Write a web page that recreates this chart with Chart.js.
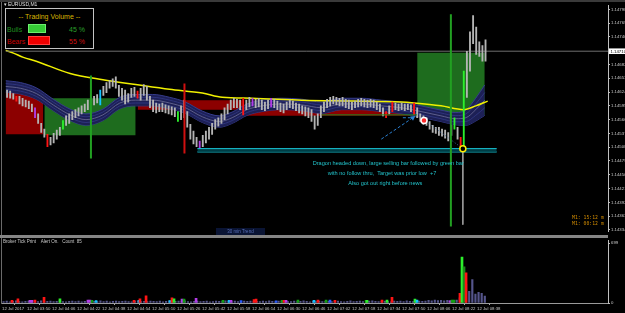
<!DOCTYPE html>
<html><head><meta charset="utf-8">
<script src="https://cdn.jsdelivr.net/npm/chart.js@4.4.0/dist/chart.umd.min.js"></script>
<style>
html,body{margin:0;padding:0;background:#000;overflow:hidden;width:625px;height:313px;}
#wrap{position:relative;width:625px;height:313px;font-family:'Liberation Sans',Arial,sans-serif;}
canvas{position:absolute;left:0;}
#main{top:0;}
#vol{top:237px;}
.t{position:absolute;white-space:pre;line-height:1;}
.s{position:absolute;white-space:pre;line-height:1;transform:scale(0.5);transform-origin:0 0;}
.r{position:absolute;}
</style></head><body><div id="wrap">
<canvas id="main" width="625" height="237"></canvas>
<canvas id="vol" width="625" height="76"></canvas>
<div class="r" style="left:0;top:0;width:625px;height:2px;background:#3a3a3a"></div>
<div class="r" style="left:1px;top:2px;width:1px;height:302px;background:#6a6a6a"></div>
<div class="s" style="left:4px;top:2px;font-size:10px;color:#e0e0e0">▾ EURUSD,M1</div>
<div class="r" style="left:0;top:235px;width:608px;height:3px;background:#858585"></div>
<div class="r" style="left:5px;top:8px;width:87px;height:39px;border:1px solid #c4c4c4;background:#000"></div>
<div class="t" style="left:5px;top:12.5px;width:89px;text-align:center;font-size:7px;color:#d8b400">-- Trading Volume --</div>
<div class="t" style="left:7px;top:25.5px;font-size:7px;color:#1f8f1f">Bulls</div>
<div id="bullBar" class="r" style="left:28px;top:24px;height:7px;background:#36cc36;border:1px solid #6ef06e"></div>
<div id="bullTxt" class="t" style="left:69px;top:25.5px;font-size:7px;color:#2aa02a"></div>
<div class="t" style="left:7px;top:37.5px;font-size:7px;color:#c80000">Bears</div>
<div id="bearBar" class="r" style="left:28px;top:36px;height:7px;background:#f00000;border:1px solid #ff4040"></div>
<div id="bearTxt" class="t" style="left:69px;top:37.5px;font-size:7px;color:#d01010"></div>
<div class="r" style="left:216px;top:227.5px;width:49px;height:7px;background:#0a1434"></div>
<div class="s" style="left:216px;top:229px;width:98px;text-align:center;font-size:9px;color:#5a70b8">30 min Trend</div>
<div class="s" style="left:572px;top:214.5px;font-size:9.6px;font-family:'DejaVu Sans Mono',monospace;color:#d08a00">M1: 15:12 m</div>
<div class="s" style="left:572px;top:220.5px;font-size:9.6px;font-family:'DejaVu Sans Mono',monospace;color:#d08a00">M1: 00:12 m</div>
<div class="s" style="left:3px;top:238.5px;font-size:9px;color:#c8c8c8">Broker Tick Print    Alert On.   Count  85</div>
</div>
<script>
// ---- data ----
const priceTicks = [1.14798,1.14769,1.14740,1.14711,1.14682,1.14653,1.14624,1.14595,1.14566,1.14537,1.14508,1.14479,1.14450,1.14421,1.14392,1.14363,1.14334];
const currentPrice = 1.14710;
const timeLabels = ["12 Jul 2017","12 Jul 03:50","12 Jul 04:06","12 Jul 04:22","12 Jul 04:38","12 Jul 04:54","12 Jul 05:10","12 Jul 05:26","12 Jul 05:42","12 Jul 05:58","12 Jul 06:14","12 Jul 06:30","12 Jul 06:46","12 Jul 07:02","12 Jul 07:18","12 Jul 07:34","12 Jul 07:50","12 Jul 08:06","12 Jul 08:22","12 Jul 08:38"];
const labelMinutes = [0,16,32,48,64,80,96,112,128,144,160,176,192,208,224,240,256,272,288,304];
const barHigh = [
1.14628,1.14626,1.14621,1.14615,1.14615,1.14611,1.14607,1.14605,1.14599,1.14591,
1.14578,1.14558,1.14546,1.14535,1.14529,1.14537,1.14544,1.14550,1.14564,1.14574,
1.14578,1.14583,1.14587,1.14591,1.14595,1.14599,1.14607,1.14613,1.14615,1.14619,
1.14628,1.14636,1.14644,1.14648,1.14652,1.14656,1.14638,1.14632,1.14628,1.14621,
1.14632,1.14634,1.14626,1.14632,1.14640,1.14636,1.14615,1.14607,1.14601,1.14599,
1.14601,1.14597,1.14595,1.14593,1.14591,1.14583,1.14595,1.14607,1.14583,1.14556,
1.14542,1.14529,1.14521,1.14533,1.14542,1.14550,1.14558,1.14566,1.14570,1.14578,
1.14591,1.14599,1.14607,1.14611,1.14609,1.14607,1.14611,1.14607,1.14613,1.14611,
1.14609,1.14611,1.14607,1.14603,1.14607,1.14611,1.14609,1.14605,1.14601,1.14599,
1.14603,1.14607,1.14605,1.14601,1.14599,1.14595,1.14593,1.14591,1.14587,1.14574,
1.14578,1.14595,1.14603,1.14609,1.14613,1.14615,1.14613,1.14611,1.14613,1.14609,
1.14607,1.14603,1.14605,1.14609,1.14611,1.14609,1.14607,1.14609,1.14607,1.14603,
1.14599,1.14591,1.14583,1.14595,1.14603,1.14601,1.14599,1.14601,1.14599,1.14599,
1.14597,1.14601,1.14591,1.14578,1.14574,1.14570,1.14562,1.14554,1.14550,1.14550,
1.14546,1.14544,1.14539,1.14554,1.14570,1.14550,1.14529,1.14668,1.14710,1.14751,
1.14785,1.14761,1.14730,1.14722,1.14734];
const barLow = [
1.14613,1.14611,1.14609,1.14605,1.14599,1.14595,1.14593,1.14589,1.14583,1.14570,
1.14558,1.14539,1.14529,1.14509,1.14513,1.14517,1.14525,1.14533,1.14546,1.14554,
1.14558,1.14566,1.14570,1.14574,1.14578,1.14583,1.14587,1.14601,1.14597,1.14601,
1.14597,1.14617,1.14623,1.14632,1.14636,1.14632,1.14615,1.14607,1.14599,1.14603,
1.14613,1.14615,1.14611,1.14607,1.14617,1.14607,1.14591,1.14583,1.14580,1.14583,
1.14583,1.14580,1.14578,1.14576,1.14572,1.14562,1.14566,1.14570,1.14550,1.14525,
1.14515,1.14509,1.14505,1.14509,1.14517,1.14525,1.14535,1.14546,1.14552,1.14558,
1.14566,1.14578,1.14587,1.14591,1.14591,1.14587,1.14576,1.14587,1.14593,1.14595,
1.14591,1.14593,1.14587,1.14585,1.14589,1.14593,1.14591,1.14587,1.14583,1.14580,
1.14587,1.14591,1.14589,1.14585,1.14580,1.14578,1.14574,1.14570,1.14562,1.14546,
1.14554,1.14570,1.14583,1.14591,1.14595,1.14599,1.14597,1.14595,1.14595,1.14591,
1.14589,1.14587,1.14591,1.14593,1.14595,1.14593,1.14591,1.14593,1.14591,1.14587,
1.14583,1.14574,1.14570,1.14578,1.14583,1.14587,1.14585,1.14587,1.14585,1.14587,
1.14583,1.14576,1.14570,1.14562,1.14556,1.14554,1.14546,1.14539,1.14537,1.14533,
1.14531,1.14527,1.14521,1.14533,1.14546,1.14525,1.14509,1.14505,1.14613,1.14668,
1.14726,1.14703,1.14699,1.14689,1.14689];
const barHighlights = [[3,'red'],[9,'magenta'],[13,'red'],[18,'lime'],[27,'magenta'],[30,'cyan'],[42,'red'],[55,'lime'],[62,'magenta'],[76,'red'],[79,'magenta'],[85,'magenta'],[122,'red'],[124,'red'],[131,'red'],[144,'lime'],[146,'red'],[147,'lime']];
const maMinutes = [0,5.1,11.5,19.8,41.6,62.7,83.8,105.6,126.7,139.5,158.7,190.7,222.7,254.7,263,280.3,295,302.7,310.4];
const maValues = [1.14712,1.14706,1.14697,1.14689,1.14663,1.14650,1.14640,1.14630,1.14622,1.14613,1.14611,1.14607,1.14605,1.14603,1.14601,1.14595,1.14587,1.14595,1.14605];
const ribbonMinutes = [0,9.6,19.8,30.7,41.6,51.8,62.7,73.6,83.8,94.7,105.6,115.8,126.7,137.6,145.9,155.5,165.1,177.9,190.7,203.5,216.3,229.1,241.9,254.7,267.5,280.3,289.9,296.3,302.7,308.5];
const ribbonMid = [1.14636,1.14632,1.14621,1.14597,1.14576,1.14566,1.14576,1.14601,1.14607,1.14607,1.14601,1.14591,1.14572,1.14562,1.14570,1.14587,1.14595,1.14599,1.14597,1.14591,1.14599,1.14599,1.14595,1.14591,1.14583,1.14574,1.14568,1.14570,1.14587,1.14607];
const ribbonHalf = [0.00012,0.00012,0.00012,0.00012,0.00012,0.00012,0.00012,0.00012,0.00012,0.00012,0.00012,0.00012,0.00012,0.00012,0.00012,0.00012,0.00012,0.00012,0.00012,0.00012,0.00012,0.00012,0.00012,0.00012,0.00012,0.00012,0.00013,0.00016,0.00024,0.00032];
const boxStart = [0,25,85.1,152.3,265];
const boxEnd = [24.3,83.8,152.3,264.3,308.5];
const boxTop = [1.14623,1.14611,1.14607,1.14591,1.14707];
const boxBottom = [1.14535,1.14533,1.14587,1.14574,1.14576];
const boxKind = ['bear','bull','bear','bear','bull'];
const vLineMinutes = [55,115.2,286.7,294.4];
const vLineFrom = [1.14659,1.14642,1.14788,1.14505];
const vLineTo = [1.14484,1.14495,1.14341,1.14345];
const vLineKind = ['bullLine','bearLine','bullLine','gray'];
const supportZone = {from:123.5, to:316.2, top:1.14505, bottom:1.14498};
const notes = [
 ["Dragon headed down, large selling bar followed by green bar",246.4,1.14474],
 ["with no follow thru,  Target was prior low  +7",242.4,1.14453],
 ["Also got out right before news",244.5,1.14431]];
const bullPct = 45, bearPct = 55;
const volBase = [
18,22,15,20,25,17,14,19,23,16,
21,18,26,15,19,22,17,20,24,16,
14,19,21,18,23,15,20,17,22,19,
16,24,18,21,15,20,23,17,19,22,
18,15,21,26,17,20,16,23,19,18,
22,15,20,24,17,19,21,16,25,18,
14,20,22,17,19,23,15,18,21,20,
16,24,19,17,22,18,15,21,20,23,
17,19,16,22,18,25,20,15,21,19,
23,17,18,22,16,20,24,19,15,21,
18,22,17,20,19,16,23,21,18,15,
20,24,17,19,22,18,16,21,25,19,
17,20,23,18,15,22,19,21,17,24,
20,18,16,23,19,21,30,26,35,28,
32,25,30,27,29,33,60,80,
217,137,274,103,125,114,80];
const tickTimes = [6.4,10.2,17.9,19.2,21.1,26.9,37.1,55,56.3,57.6,60.2,84.5,87.7,88.3,92.2,107.5,108.8,110.1,115.2,116.5,124.2,141.4,145.3,146.6,153,161.3,162.6,175.4,179.2,180.5,181.8,189.4,199.7,202.2,207.4,209.9,213.1,233,233.6,243.2,246.4,249.6,264.3,265.6,286.7,288,289.3,293.1,294.4,295.7,297];
const tickVolumes = [30,50,30,30,35,65,50,35,35,30,28,30,30,50,85,28,60,50,45,45,55,30,30,30,28,40,45,25,30,30,30,35,30,35,35,35,30,30,30,35,35,65,45,35,25,35,35,114,536,422,354];
const tickKinds = ['red','red','magenta','magenta','red','red','lime','magenta','magenta','green','cyan','red','cyan','red','red','cyan','red','lime','magenta','green','magenta','green','cyan','magenta','blue','red','red','blue','green','red','magenta','green','cyan','red','green','blue','red','green','lime','red','lime','red','lime','cyan','magenta','green','green','red','lime','dkgreen','red'];
const volTicks = [0,699];

// ---- styles ----
const C = {red:'#ff1414',magenta:'#b23ce6',lime:'#2cf02c',green:'#12a012',cyan:'#12c4ff',blue:'#2a5cff',dkgreen:'#1b8a1b',
  gray:'#9a9a9a',bull:'#1e6c1e',bear:'#8c0000',bullLine:'#22a022',bearLine:'#d01010',candle:'#b4b4b4',vol:'#55558c'};
const X_MIN = 0, X_MAX = 387.84;
const Y_MIN = 1.143306, Y_MAX = 1.148062;

document.getElementById('bullBar').style.width = (bullPct*0.4-2)+'px';
document.getElementById('bearBar').style.width = (bearPct*0.4-2)+'px';
document.getElementById('bullTxt').textContent = bullPct+' %';
document.getElementById('bearTxt').textContent = bearPct+' %';

function seg(x0,y0,x1,y1,color,width,dash,order){
  return {type:'line',data:[{x:x0,y:y0},{x:x1,y:y1}],borderColor:color,borderWidth:width,borderDash:dash||[],pointRadius:0,fill:false,order:order};
}
const mainSets = [];
boxStart.forEach((s,i)=>mainSets.push({type:'line',data:[{x:s,y:boxTop[i]},{x:boxEnd[i],y:boxTop[i]}],
  fill:{value:boxBottom[i]},backgroundColor:C[boxKind[i]],borderWidth:0,pointRadius:0,order:10}));
const rib = k => ribbonMinutes.map((m,i)=>({x:m,y:ribbonMid[i]+k*ribbonHalf[i]}));
const ribBase = {type:'line',pointRadius:0,cubicInterpolationMode:'monotone'};
mainSets.push({...ribBase,data:rib(1),fill:'+1',backgroundColor:'#1d2056',borderColor:'#363c8c',borderWidth:1,order:8});
mainSets.push({...ribBase,data:rib(-1),fill:false,borderColor:'#363c8c',borderWidth:1,order:8});
mainSets.push({...ribBase,data:rib(0.5),fill:false,borderColor:'#343a86',borderWidth:0.8,order:7});
mainSets.push({...ribBase,data:rib(-0.5),fill:false,borderColor:'#343a86',borderWidth:0.8,order:7});
mainSets.push({...ribBase,data:rib(0),fill:false,borderColor:'#6e6e98',borderWidth:0.8,order:7});
mainSets.push({type:'line',data:maMinutes.map((m,i)=>({x:m,y:maValues[i]})),borderColor:'#f0f000',borderWidth:1.5,pointRadius:0,cubicInterpolationMode:'monotone',fill:false,order:6});
mainSets.push(seg(X_MIN,currentPrice,X_MAX,currentPrice,'#6e6e6e',1,null,5));
const candleColors = barHigh.map(()=>C.candle);
barHighlights.forEach(([i,k])=>candleColors[i]=C[k]);
mainSets.push({type:'bar',data:barHigh.map((h,i)=>({x:2*i+1,y:[barLow[i],h]})),backgroundColor:candleColors,barThickness:1.2,order:4});
vLineMinutes.forEach((m,i)=>mainSets.push(seg(m,vLineFrom[i],m,vLineTo[i],C[vLineKind[i]],vLineKind[i]==='gray'?1:2,null,2)));
mainSets.push({type:'line',data:[{x:supportZone.from,y:supportZone.top},{x:supportZone.to,y:supportZone.top}],fill:{value:supportZone.bottom},
  backgroundColor:'rgba(0,70,80,0.85)',borderColor:'#18c8d8',borderWidth:1,pointRadius:0,order:3});
mainSets.push(seg(supportZone.from,supportZone.bottom,supportZone.to,supportZone.bottom,'#18c8d8',1,null,3));
mainSets.push(seg(203.5,1.14576,265,1.14576,'#1f8a1f',1,null,3));
mainSets.push({type:'line',data:[{x:241.9,y:1.14525},{x:262.2,y:1.14570}],borderColor:'#2a7fd0',borderWidth:1,borderDash:[3,2],
  pointRadius:[0,3],pointStyle:'triangle',rotation:56,pointBackgroundColor:'#2a7fd0',pointBorderWidth:0,fill:false,order:2});
mainSets.push(seg(255.8,1.14570,262.2,1.14570,'#2a7fd0',1,[3,2],2));
mainSets.push(seg(267.5,1.14570,294.4,1.14505,'#3f6a9a',1,[1,2],2));
mainSets.push({type:'line',showLine:false,data:[{x:269.4,y:1.14564}],pointRadius:3,pointBackgroundColor:'#ff2a2a',pointBorderColor:'#ffffff',pointBorderWidth:1.5,order:1});
mainSets.push({type:'line',showLine:false,data:[{x:294.4,y:1.14505}],pointRadius:3,pointBackgroundColor:'#000',pointBorderColor:'#ffee00',pointBorderWidth:1.5,order:1});

const notesPlugin = {id:'notes',afterDatasetsDraw(chart){
  const {ctx,scales:{x,y}} = chart;
  ctx.save(); ctx.font = '5.6px "Liberation Sans"'; ctx.fillStyle = '#22c4cc'; ctx.textAlign = 'center'; ctx.textBaseline = 'middle';
  notes.forEach(([t,m,p])=>ctx.fillText(t,x.getPixelForValue(m),y.getPixelForValue(p)));
  ctx.restore();
}};
const priceBoxPlugin = {id:'pbox',afterDraw(chart){
  const {ctx,scales:{y}} = chart; const py = y.getPixelForValue(currentPrice);
  ctx.save(); ctx.fillStyle = '#ffffff'; ctx.fillRect(609,py-2.8,16,5.6);
  ctx.fillStyle = '#000'; ctx.font = '4.3px "Liberation Sans"'; ctx.textBaseline = 'middle'; ctx.textAlign = 'left';
  ctx.fillText(currentPrice.toFixed(5),610.5,py+0.2); ctx.restore();
}};
const common = {responsive:false,animation:false,devicePixelRatio:1,events:[],
  plugins:{legend:{display:false},tooltip:{enabled:false}},elements:{point:{radius:0}}};
const axisFont = {size:4.3,family:'Liberation Sans'};

new Chart(document.getElementById('main'),{
  type:'bar',data:{datasets:mainSets},
  options:{...common,layout:{padding:{left:2,top:3,right:0,bottom:2}},
    scales:{
      x:{type:'linear',min:X_MIN,max:X_MAX,offset:false,display:false},
      y:{type:'linear',position:'right',min:Y_MIN,max:Y_MAX,
        afterFit(s){s.width=17;},
        afterBuildTicks(s){s.ticks=priceTicks.filter(v=>Math.abs(v-currentPrice)>0.00008).map(v=>({value:v}));},
        ticks:{color:'#c8c8c8',font:axisFont,padding:1,autoSkip:false,callback:v=>Number(v).toFixed(5)},
        grid:{drawOnChartArea:false,color:'#c0c0c0',tickLength:2},
        border:{color:'#c0c0c0'}}
    }},
  plugins:[notesPlugin,priceBoxPlugin]
});

new Chart(document.getElementById('vol'),{
  type:'bar',
  data:{datasets:[
    {data:tickTimes.map((t,i)=>({x:t,y:tickVolumes[i]})),backgroundColor:tickKinds.map(k=>C[k]),barThickness:2,grouped:false,order:1},
    {data:volBase.map((v,i)=>({x:2*i+1,y:v})),backgroundColor:C.vol,barThickness:1.5,grouped:false,order:2}
  ]},
  options:{...common,layout:{padding:{left:2,top:2,right:0,bottom:0}},
    scales:{
      x:{type:'linear',min:X_MIN,max:X_MAX,offset:false,
        afterFit(s){s.height=10;},
        afterBuildTicks(s){s.ticks=labelMinutes.map(v=>({value:v}));},
        ticks:{align:'start',maxRotation:0,autoSkip:false,color:'#c8c8c8',font:axisFont,padding:1,callback:(v,i)=>timeLabels[i]},
        grid:{drawOnChartArea:false,color:'#b0b0b0',tickLength:2},
        border:{color:'#9a9a9a'}},
      y:{type:'linear',position:'right',min:0,max:730,
        afterFit(s){s.width=17;},
        afterBuildTicks(s){s.ticks=volTicks.map(v=>({value:v}));},
        ticks:{color:'#c8c8c8',font:axisFont,padding:1},
        grid:{drawOnChartArea:false,color:'#c0c0c0',tickLength:2},
        border:{color:'#c0c0c0'}}
    }}
});
</script></body></html>
